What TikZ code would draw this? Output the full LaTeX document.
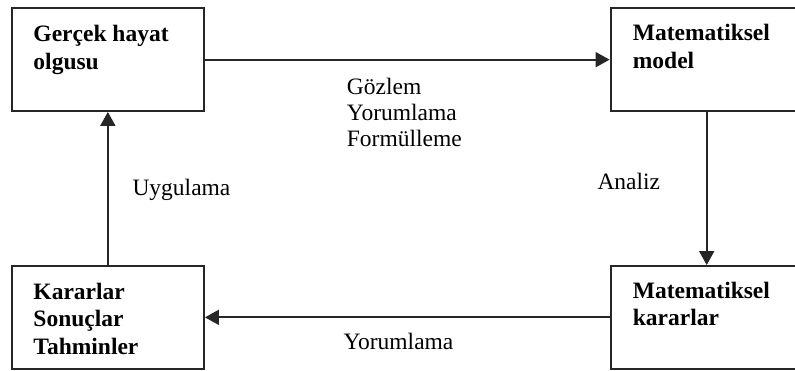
\documentclass[tikz,border=0pt]{standalone}
\usepackage{fontspec}
\setmainfont{Liberation Serif}
\usetikzlibrary{arrows.meta}
\begin{document}
\begin{tikzpicture}[x=1bp,y=-1bp,
  box/.style={draw=black!85, line width=1.9bp, minimum width=192.3bp, minimum height=102.7bp, inner sep=0pt, fill=white},
  btxt/.style={anchor=base west, inner sep=0pt, font=\fontsize{23.5bp}{28bp}\selectfont\bfseries},
  ltxt/.style={anchor=base west, inner sep=0pt, font=\fontsize{23.5bp}{28bp}\selectfont},
  conn/.style={draw=black!85, line width=1.9bp, -{Triangle[length=14bp,width=15bp]}}]
\useasboundingbox (0,0) rectangle (795,370);
\clip (0,0) rectangle (795,370);
\fill[white] (0,0) rectangle (795,370);
% boxes
\node[box] (tl) at (107.85,59.65) {};
\node[box] (tr) at (706.7,59.65) {};
\node[box] (bl) at (107.85,317.35) {};
\node[box] (br) at (706.7,317.35) {};
% box texts
\node[btxt] (tl1) at (33.3,41.7) {Gerçek hayat};
\node[btxt] (tl2) at (33.3,69.5) {olgusu};
\node[btxt] (tr1) at (632.7,40.7) {Matematiksel};
\node[btxt] (tr2) at (632.7,68.3) {model};
\node[btxt] (bl1) at (33.3,299.5) {Kararlar};
\node[btxt] (bl2) at (33.3,326.7) {Sonuçlar};
\node[btxt] (bl3) at (33.3,354) {Tahminler};
\node[btxt] (br1) at (632.7,298.3) {Matematiksel};
\node[btxt] (br2) at (632.7,325) {kararlar};
% connector labels
\node[ltxt] (g1) at (346.7,94.3) {Gözlem};
\node[ltxt] (g2) at (346.7,120.5) {Yorumlama};
\node[ltxt] (g3) at (346.7,146.7) {Formülleme};
\node[ltxt] (an) at (597.3,189.3) {Analiz};
\node[ltxt] (uy) at (132.3,195) {Uygulama};
\node[ltxt] (yo) at (343.3,349.3) {Yorumlama};
% connectors
\draw[conn] (tl.east) -- (tl.east -| tr.west);
\draw[conn] (tr.south) -- (br.north);
\draw[conn] (br.west) -- (bl.east);
\draw[conn] (bl.north) -- (tl.south);
\end{tikzpicture}
\end{document}
